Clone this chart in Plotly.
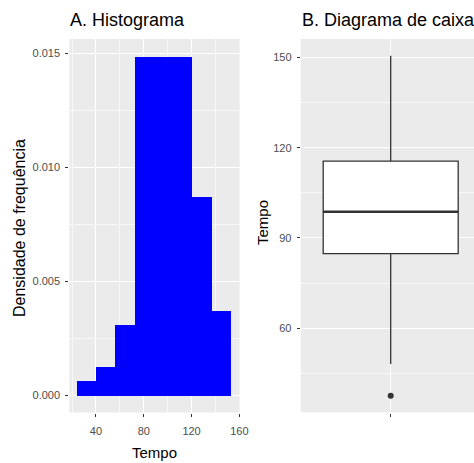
import plotly.graph_objects as go

# ---- data ----
bin_edges = [24.2, 40.3, 56.5, 72.6, 88.7, 104.9, 121.0, 137.1, 153.3]
density = [0.00065, 0.00125, 0.0031, 0.01485, 0.01485, 0.01485, 0.0087, 0.0037]

box_q1 = 84.8
box_median = 98.7
box_q3 = 115.5
box_lower = 48.1
box_upper = 150.5
box_outliers = [37.6]

hist_xticks = [40, 80, 120, 160]
hist_yticks = [0.0, 0.005, 0.010, 0.015]
hist_yticklabels = ["0.000", "0.005", "0.010", "0.015"]
box_yticks = [60, 90, 120, 150]

W, H = 474, 463
FONT = "Liberation Sans, Arial, sans-serif"
TICKC = "#4D4D4D"

centers = [(a + b) / 2 for a, b in zip(bin_edges[:-1], bin_edges[1:])]
widths = [b - a for a, b in zip(bin_edges[:-1], bin_edges[1:])]

fig = go.Figure()
fig.add_trace(go.Bar(x=centers, y=density, width=widths, marker=dict(color="blue", line=dict(width=0)),
                     xaxis="x", yaxis="y", showlegend=False, hoverinfo="skip"))

fig.add_trace(go.Box(x=[0], q1=[box_q1], median=[box_median], q3=[box_q3],
                     lowerfence=[box_lower], upperfence=[box_upper],
                     width=0.75, whiskerwidth=0, fillcolor="white",
                     line=dict(color="#333333", width=1.3), boxpoints=False,
                     xaxis="x2", yaxis="y2", showlegend=False, hoverinfo="skip"))
# thicker median line (ggplot fatten)
fig.add_trace(go.Scatter(x=[-0.375, 0.375], y=[box_median, box_median], mode="lines",
                         line=dict(color="#333333", width=2.4), xaxis="x2", yaxis="y2",
                         showlegend=False, hoverinfo="skip"))
fig.add_trace(go.Scatter(x=[0] * len(box_outliers), y=box_outliers, mode="markers",
                         marker=dict(color="#333333", size=6), xaxis="x2", yaxis="y2",
                         showlegend=False, hoverinfo="skip"))

ydom = [1 - 412.5 / H, 1 - 39 / H]
axis_common = dict(showline=False, zeroline=False, ticks="outside", ticklen=3, tickwidth=1,
                   tickcolor="#333333", tickfont=dict(family=FONT, size=11, color=TICKC),
                   gridcolor="white", gridwidth=1.1, automargin=False)

fig.update_layout(
    width=W, height=H, margin=dict(l=0, r=0, t=0, b=0, autoexpand=False),
    paper_bgcolor="white", plot_bgcolor="#EBEBEB", bargap=0,
    font=dict(family=FONT),
    xaxis=dict(domain=[69.3 / W, 239.6 / W], range=[17.7, 160.2], anchor="y",
               tickvals=hist_xticks, showgrid=True, ticklabelstandoff=5,
               minor=dict(tickvals=[20, 60, 100, 140], showgrid=True, gridcolor="#F7F7F7", gridwidth=0.6, ticks=""),
               **axis_common),
    yaxis=dict(domain=ydom, range=[-0.000744, 0.01562], anchor="x",
               tickvals=hist_yticks, ticktext=hist_yticklabels, showgrid=True, ticklabelstandoff=3,
               minor=dict(tickvals=[0.0025, 0.0075, 0.0125], showgrid=True, gridcolor="#F7F7F7", gridwidth=0.6, ticks=""),
               **axis_common),
    xaxis2=dict(domain=[300.7 / W, 1.0], range=[-0.5, 0.4628], anchor="y2",
                tickvals=[0], ticktext=[""], showgrid=True, **axis_common),
    yaxis2=dict(domain=ydom, range=[32.0, 156.1], anchor="x2",
                tickvals=box_yticks, showgrid=True, ticklabelstandoff=3,
                minor=dict(tickvals=[45, 75, 105, 135], showgrid=True, gridcolor="#F7F7F7", gridwidth=0.6, ticks=""),
                **axis_common),
)

ann = [
    dict(text="A. Histograma", x=67.5 / W, y=1 - 20 / H, xanchor="left", yanchor="middle", font=dict(size=18)),
    dict(text="B. Diagrama de caixa", x=300 / W, y=1 - 20 / H, xanchor="left", yanchor="middle", font=dict(size=18)),
    dict(text="Densidade de frequência", x=19 / W, y=1 - 228 / H, xanchor="center", yanchor="middle",
         textangle=-90, font=dict(size=16)),
    dict(text="Tempo", x=154 / W, y=1 - 452 / H, xanchor="center", yanchor="middle", font=dict(size=15)),
    dict(text="Tempo", x=262 / W, y=1 - 223 / H, xanchor="center", yanchor="middle",
         textangle=-90, font=dict(size=15)),
]
for a in ann:
    a.update(xref="paper", yref="paper", showarrow=False)
    a["font"].update(family=FONT, color="black")
fig.update_layout(annotations=ann)

fig.write_html("out.html")
